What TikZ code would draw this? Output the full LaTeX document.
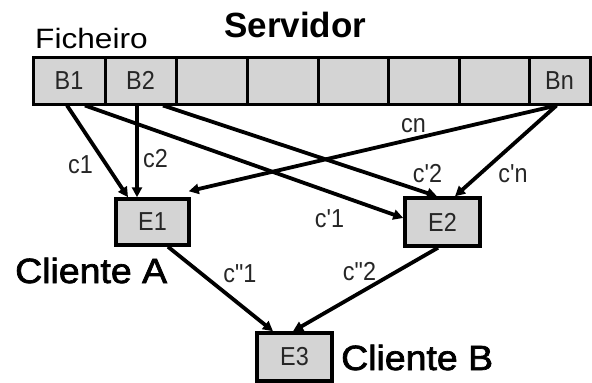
\documentclass[tikz,border=0pt]{standalone}
\usepackage{fontspec}
\setmainfont{Liberation Sans}[Ligatures=TeXOff]
\newfontfamily\heavyfont{Liberation Sans}[FakeBold=2]
\usetikzlibrary{arrows.meta}
\definecolor{cellgray}{HTML}{D4D4D4}
\definecolor{labgray}{HTML}{262626}
% narrow labels used in the blocks and on the transfers
\newcommand{\nlab}[1]{\scalebox{0.9}[1]{\fontsize{26}{30}\selectfont #1}}
% large client captions
\newcommand{\clientcap}[1]{\scalebox{1.07}[1]{\fontsize{35}{40}\heavyfont #1}}
\tikzset{
  cell/.style={draw, line width=3pt, fill=cellgray, minimum height=47pt,
    inner sep=0pt, text=labgray},
  bloco/.style={draw, line width=3.5pt, fill=cellgray, minimum width=73pt,
    minimum height=46pt, inner sep=0pt, text=labgray},
  flow/.style={line width=3.8pt, -{Triangle[length=10pt,width=10pt]}},
  lbl/.style={anchor=base, inner sep=0pt, text=labgray},
  title/.style={anchor=base west, inner sep=0pt}
}
\begin{document}
\begin{tikzpicture}[x=1pt,y=-1pt]
\useasboundingbox (0,0) rectangle (592,383);

% file blocks on the server
\node[cell, minimum width=72pt] (B1) at (69,80.5) {\nlab{B1}};
\node[cell, minimum width=71pt] (B2) at (140.5,80.5) {\nlab{B2}};
\node[cell, minimum width=71pt] (b3) at (211.5,80.5) {};
\node[cell, minimum width=71pt] (b4) at (282.5,80.5) {};
\node[cell, minimum width=70pt] (b5) at (353,80.5) {};
\node[cell, minimum width=71pt] (b6) at (423.5,80.5) {};
\node[cell, minimum width=70pt] (b7) at (494,80.5) {};
\node[cell, minimum width=61pt] (Bn) at (559.5,80.5) {\nlab{Bn}};

% titles
\node[title, font=\fontsize{35}{40}\selectfont\bfseries] (srv) at (224,37) {Servidor};
\node[title] (fich) at (35,48) {\scalebox{1.13}[1]{\fontsize{28}{32}\selectfont Ficheiro}};
\node[title] (cliA) at (15,283) {\clientcap{Cliente A}};
\node[title] (cliB) at (341,370) {\clientcap{Cliente B}};

% client blocks
\node[bloco] (E1) at (152.5,222) {\nlab{E1}};
\node[bloco, minimum width=75pt, minimum height=48pt] (E2) at (442.5,222) {\nlab{E2}};
\node[bloco, minimum width=75pt, minimum height=48pt] (E3) at (294.5,357) {\nlab{E3}};

% transfers
\draw[flow] ([xshift=-2pt]B1.south) -- ([xshift=-24.5pt]E1.north);
\draw[flow] ([xshift=-3.5pt]B2.south) -- ([xshift=-15.5pt]E1.north);
\draw[flow] ([xshift=16pt]B1.south) -- ([yshift=4pt]E2.west);
\draw[flow] ([xshift=22.5pt]B2.south) -- ([xshift=-5.5pt]E2.north);
\draw[flow] ([xshift=-3pt]Bn.south) -- ([xshift=-2pt,yshift=6pt]E1.north east);
\draw[flow] ([xshift=-3pt]Bn.south) -- ([xshift=12.5pt]E2.north);
\draw[flow] ([xshift=15.5pt]E1.south) -- ([xshift=-21.5pt]E3.north);
\draw[flow] ([xshift=-4.5pt]E2.south) -- ([xshift=-1.5pt]E3.north);

% transfer labels
\node[lbl] (l1) at (80.5,173) {\nlab{c1}};
\node[lbl] (l2) at (155.5,167) {\nlab{c2}};
\node[lbl] (ln) at (413.5,132) {\nlab{cn}};
\node[lbl] (lp2) at (427.5,182) {\nlab{c'2}};
\node[lbl] (lpn) at (513,182) {\nlab{c'n}};
\node[lbl] (lp1) at (329.5,227) {\nlab{c'1}};
\node[lbl] (lq1) at (240,282) {\nlab{c"1}};
\node[lbl] (lq2) at (359.5,280) {\nlab{c"2}};
\end{tikzpicture}
\end{document}
